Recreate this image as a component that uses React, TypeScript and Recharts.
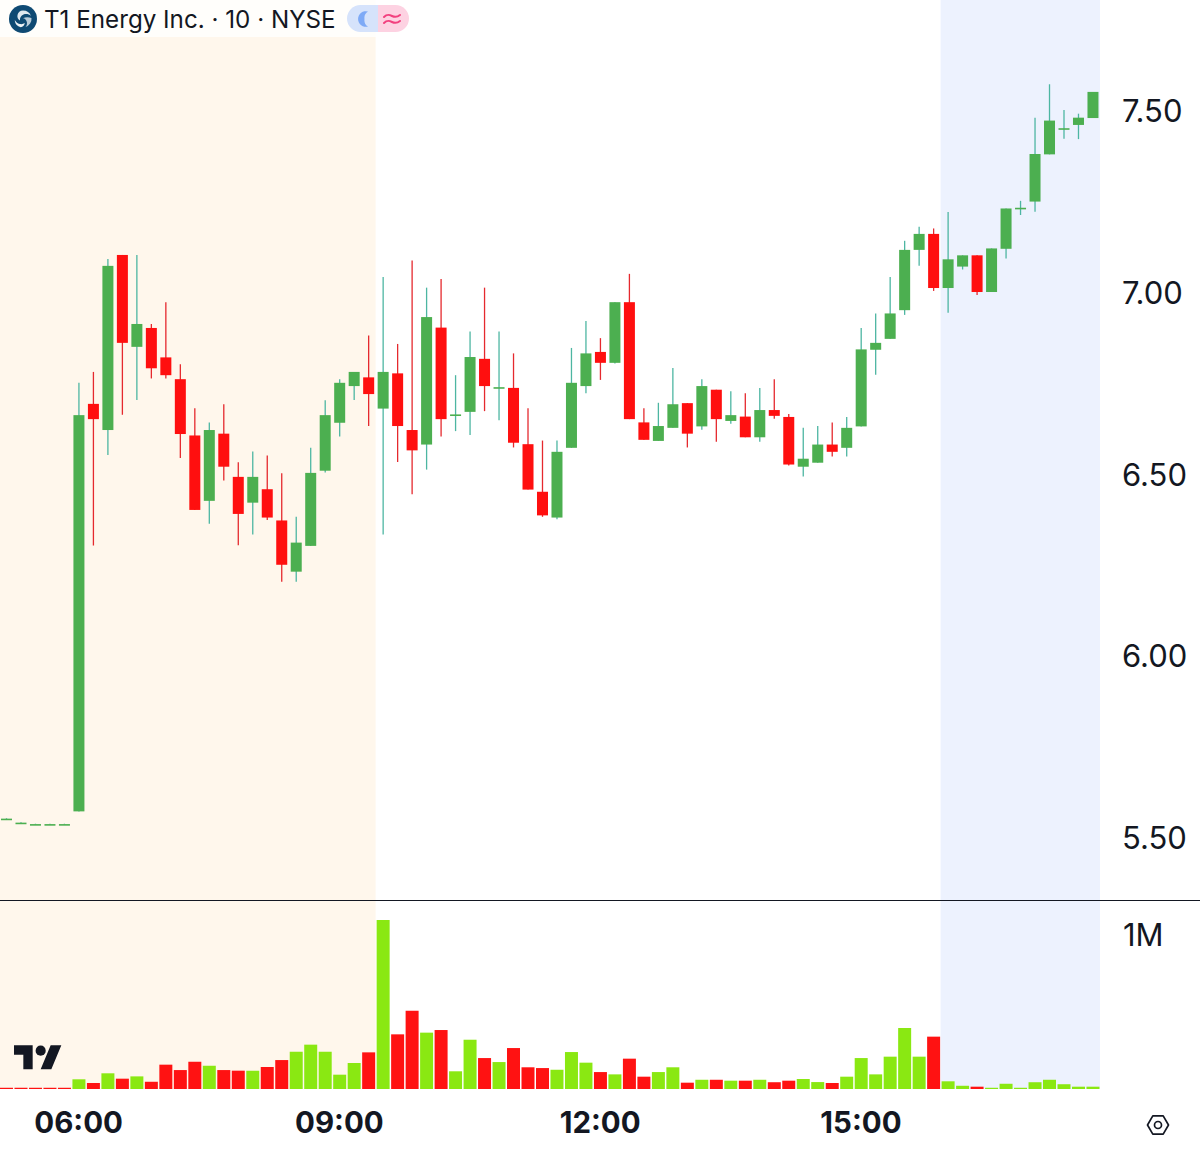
import React from 'react';
import { ComposedChart, Bar, Cell, XAxis, YAxis, ReferenceArea } from 'recharts';

// 10 minute session
const times = [
  '05:10', '05:20', '05:30', '05:40', '05:50', '06:00', '06:10', '06:20', '06:30', '06:40',
  '06:50', '07:00', '07:10', '07:20', '07:30', '07:40', '07:50', '08:00', '08:10', '08:20',
  '08:30', '08:40', '08:50', '09:00', '09:10', '09:20', '09:30', '09:40', '09:50', '10:00',
  '10:10', '10:20', '10:30', '10:40', '10:50', '11:00', '11:10', '11:20', '11:30', '11:40',
  '11:50', '12:00', '12:10', '12:20', '12:30', '12:40', '12:50', '13:00', '13:10', '13:20',
  '13:30', '13:40', '13:50', '14:00', '14:10', '14:20', '14:30', '14:40', '14:50', '15:00',
  '15:10', '15:20', '15:30', '15:40', '15:50', '16:00', '16:10', '16:20', '16:30', '16:40',
  '16:50', '17:00', '17:10', '17:20', '17:30', '17:40',
];

const opens = [
  5.55, 5.539, 5.535, 5.535, 5.535, 5.57, 6.692, 6.62, 7.102, 6.849,
  6.901, 6.82, 6.76, 6.605, 6.425, 6.61, 6.491, 6.42, 6.457, 6.371,
  6.23, 6.301, 6.508, 6.64, 6.741, 6.765, 6.679, 6.776, 6.62, 6.58,
  6.902, 6.662, 6.67, 6.816, 6.737, 6.736, 6.581, 6.45, 6.379, 6.571,
  6.741, 6.835, 6.805, 6.972, 6.641, 6.59, 6.626, 6.694, 6.63, 6.731,
  6.645, 6.657, 6.6, 6.675, 6.656, 6.519, 6.53, 6.58, 6.571, 6.63,
  6.841, 6.871, 6.95, 7.116, 7.16, 7.011, 7.07, 7.101, 7.0, 7.119,
  7.231, 7.249, 7.379, 7.45, 7.46, 7.479,
];

const closes = [
  5.55, 5.539, 5.535, 5.535, 5.535, 6.661, 6.65, 7.072, 6.86, 6.912,
  6.79, 6.771, 6.609, 6.4, 6.62, 6.519, 6.389, 6.491, 6.379, 6.249,
  6.31, 6.502, 6.661, 6.75, 6.78, 6.719, 6.78, 6.631, 6.564, 6.931,
  6.65, 6.663, 6.821, 6.741, 6.738, 6.585, 6.456, 6.385, 6.56, 6.75,
  6.831, 6.805, 6.972, 6.65, 6.593, 6.631, 6.691, 6.61, 6.741, 6.65,
  6.661, 6.6, 6.675, 6.659, 6.525, 6.541, 6.58, 6.56, 6.626, 6.842,
  6.86, 6.941, 7.116, 7.16, 7.011, 7.09, 7.101, 7.0, 7.12, 7.23,
  7.232, 7.38, 7.472, 7.451, 7.48, 7.551,
];

const highs = [
  5.551, 5.54, 5.536, 5.536, 5.536, 6.75, 6.78, 7.091, 7.102, 7.102,
  6.912, 6.972, 6.801, 6.68, 6.641, 6.691, 6.531, 6.561, 6.55, 6.501,
  6.381, 6.571, 6.702, 6.76, 6.78, 6.88, 7.041, 6.857, 7.087, 7.012,
  7.036, 6.771, 6.891, 7.012, 6.891, 6.831, 6.68, 6.591, 6.591, 6.846,
  6.92, 6.873, 6.972, 7.05, 6.68, 6.695, 6.791, 6.694, 6.76, 6.731,
  6.727, 6.721, 6.736, 6.76, 6.664, 6.626, 6.631, 6.641, 6.656, 6.901,
  6.941, 7.041, 7.141, 7.18, 7.175, 7.22, 7.101, 7.101, 7.12, 7.23,
  7.251, 7.48, 7.572, 7.501, 7.491, 7.551,
];

const lows = [
  5.549, 5.538, 5.534, 5.534, 5.534, 5.57, 6.302, 6.551, 6.662, 6.703,
  6.762, 6.762, 6.543, 6.4, 6.362, 6.481, 6.303, 6.332, 6.372, 6.202,
  6.202, 6.301, 6.503, 6.602, 6.703, 6.631, 6.332, 6.532, 6.443, 6.511,
  6.602, 6.617, 6.606, 6.672, 6.647, 6.572, 6.456, 6.381, 6.374, 6.571,
  6.721, 6.758, 6.803, 6.65, 6.593, 6.59, 6.626, 6.572, 6.621, 6.588,
  6.637, 6.6, 6.588, 6.651, 6.522, 6.492, 6.53, 6.547, 6.547, 6.63,
  6.772, 6.871, 6.937, 7.072, 7.003, 6.943, 7.062, 6.992, 7.0, 7.092,
  7.212, 7.221, 7.379, 7.422, 7.421, 7.479,
];

// thousands of shares
const volumes = [
  8, 8, 8, 8, 8, 63, 39, 102, 67, 82,
  47, 158, 123, 177, 151, 123, 119, 119, 143, 188,
  242, 288, 242, 93, 169, 238, 1097, 355, 509, 366,
  383, 115, 320, 201, 175, 266, 141, 136, 125, 240,
  171, 110, 95, 197, 80, 110, 141, 41, 60, 60,
  54, 54, 60, 44, 54, 65, 45, 39, 80, 201,
  95, 210, 396, 210, 340, 50, 21, 15, 8, 34,
  8, 44, 60, 31, 15, 15,
];

// the volume colours do not follow the candles
const volumeUp = [
  0, 0, 0, 0, 0, 1, 0, 1, 0, 1,
  0, 0, 0, 0, 1, 0, 0, 1, 0, 0,
  1, 1, 1, 1, 1, 0, 1, 0, 0, 1,
  0, 1, 1, 0, 1, 0, 0, 0, 1, 1,
  1, 0, 1, 0, 0, 1, 1, 0, 1, 0,
  1, 0, 1, 0, 0, 1, 1, 0, 1, 1,
  1, 1, 1, 1, 0, 1, 1, 0, 1, 1,
  1, 1, 1, 1, 1, 1,
];

const timeTicks = ['06:00', '09:00', '12:00', '15:00'];
const priceTicks = [5.5, 6, 6.5, 7, 7.5];
const volumeTicks = [1000];

const rows = times.map((time, i) => ({
  time,
  open: opens[i],
  close: closes[i],
  high: highs[i],
  low: lows[i],
  range: [lows[i], highs[i]],
  volume: volumes[i],
}));

const FONT = 'Inter, "Noto Sans", sans-serif';
const UP_BODY = '#4caf50';
const UP_WICK = '#4db6a2';
const DOWN_BODY = '#ff0f0f';
const DOWN_WICK = '#e5292e';
const VOL_UP = '#8ae812';
const VOL_DOWN = '#ff1212';
const PRE_BG = '#fff7ec';
const POST_BG = '#edf2fe';

const CHART_LEFT = -1.17;
const CHART_WIDTH = 1201.17;
const AXIS_WIDTH = 100.2;

// Bar gives us the low-high box, body is placed inside it by ratio
function Candle(props: any) {
  const { x, y, width, height, payload } = props;
  const { open, close, high, low } = payload;
  const up = close >= open;
  const k = height / (high - low || 1);
  const top = y + (high - Math.max(open, close)) * k;
  const bodyH = Math.max(Math.abs(open - close) * k, 1.6);
  const cx = x + width / 2;
  return (
    <g>
      <line x1={cx} x2={cx} y1={y} y2={y + height} stroke={up ? UP_WICK : DOWN_WICK} strokeWidth={1.3} />
      <rect x={x} y={top} width={width} height={bodyH} fill={up ? UP_BODY : DOWN_BODY} />
    </g>
  );
}

function Header() {
  return (
    <>
      <div style={{ position: 'absolute', left: 0, top: 0, width: 376, height: 37, background: 'rgba(255,255,255,0.8)' }} />
      <svg width={30} height={30} style={{ position: 'absolute', left: 8, top: 4 }} viewBox="0 0 30 30">
        <circle cx={15} cy={15} r={14} fill="#0f4a73" />
        <path d="M15 6.500a8.500 8.500 0 0 1 8 5.500c-2-2-5-2.500-7.500-1.500-2.500 1-4 3.500-3.500 6-2-1-3-3-2.500-5.500C10 8.500 12 6.500 15 6.500z" fill="#dfe8ee" />
        <path d="M23.500 14a8.500 8.500 0 0 1-6 9c1.500-1.500 2-4 1-6-.7-1.500-2-2.500-3.500-2.700 2.500-1.500 6-1.300 8.500-.3z" fill="#b9cbd8" />
        <path d="M6.800 16c1 1.800 2.500 3.500 5 4 2 .4 3.500 0 5-1-.5 2.500-2 4-4 4.200-3.500-.7-6-3.700-6-7.200z" fill="#eef3f6" />
      </svg>
      <div
        style={{
          position: 'absolute', left: 44, top: 5, height: 30, lineHeight: '30px',
          fontFamily: FONT, fontSize: 24.2, color: '#131722', whiteSpace: 'nowrap',
        }}
      >
        T1 Energy Inc. · 10 · NYSE
      </div>
      <div style={{ position: 'absolute', left: 347, top: 5, width: 31, height: 27, background: '#d6e3fb', borderRadius: '14px 0 0 14px' }} />
      <div style={{ position: 'absolute', left: 378, top: 5, width: 31, height: 27, background: '#fdd2e2', borderRadius: '0 14px 14px 0' }} />
      <svg width={20} height={20} style={{ position: 'absolute', left: 354, top: 9 }} viewBox="0 0 20 20">
        <path d="M14 2.500a7.800 7.800 0 1 0 0 15 7.500 7.500 0 0 1-3.500-7.500 7.500 7.500 0 0 1 3.500-7.500z" fill="#7eaaf6" />
      </svg>
      <svg width={20} height={20} style={{ position: 'absolute', left: 382, top: 9 }} viewBox="0 0 20 20">
        <path d="M2 8c3-3 5-2.500 8-1s5 1.500 8-1M2 14c3-3 5-2.500 8-1s5 1.500 8-1" fill="none" stroke="#f2417f" strokeWidth={2} strokeLinecap="round" />
      </svg>
    </>
  );
}

function TvLogo() {
  return (
    <svg width={48} height={26} viewBox="0 0 36 19.500" style={{ position: 'absolute', left: 13.500, top: 1043.700 }}>
      <path d="M14 22H7V11H0V4h14v18zM28 22h-8l7.500-18h8L28 22z" transform="translate(0 -3)" fill="#131722" />
      <circle cx={20} cy={5} r={3.800} fill="#131722" />
    </svg>
  );
}

function SettingsIcon() {
  return (
    <svg width={24} height={22} viewBox="0 0 24 22" style={{ position: 'absolute', left: 1145.500, top: 1114 }}>
      <path d="M1.500 11L6.800 1.800h10.400L22.500 11l-5.300 9.200H6.800z" fill="none" stroke="#131722" strokeWidth={1.700} strokeLinejoin="round" />
      <circle cx={12} cy={11} r={3.500} fill="none" stroke="#131722" strokeWidth={1.700} />
    </svg>
  );
}

export default function App() {
  return (
    <div style={{ position: 'absolute', left: 0, top: 0, width: 1200, height: 1155, overflow: 'hidden', background: '#fff' }}>
      {/* price pane */}
      <div style={{ position: 'absolute', left: CHART_LEFT, top: 0 }}>
        <ComposedChart
          width={CHART_WIDTH}
          height={900}
          data={rows}
          margin={{ top: 0, right: 0, bottom: 0, left: 0 }}
        >
          <XAxis dataKey="time" hide padding={{ left: 0, right: 0 }} />
          <YAxis
            orientation="right"
            width={AXIS_WIDTH}
            domain={[5.326, 7.804]}
            ticks={priceTicks}
            tickFormatter={(v: number) => v.toFixed(2)}
            tick={{ fontSize: 31, fill: '#131722', fontFamily: FONT, fontWeight: 400, dy: 1 }}
            tickLine={false}
            axisLine={false}
            tickSize={0}
            tickMargin={22}
          />
          <ReferenceArea x1="05:10" x2="09:20" fill={PRE_BG} fillOpacity={1} stroke="none" />
          <ReferenceArea x1="16:00" x2="17:40" fill={POST_BG} fillOpacity={1} stroke="none" />
          <Bar dataKey="range" barSize={11} shape={<Candle />} isAnimationActive={false} />
        </ComposedChart>
      </div>

      <div style={{ position: 'absolute', left: 0, top: 900, width: 1200, height: 1, background: '#131722', zIndex: 2 }} />

      {/* volume pane */}
      <div style={{ position: 'absolute', left: CHART_LEFT, top: 901 }}>
        <ComposedChart
          width={CHART_WIDTH}
          height={254}
          data={rows}
          margin={{ top: 0, right: 0, bottom: 0, left: 0 }}
        >
          <XAxis
            dataKey="time"
            height={66}
            ticks={timeTicks}
            interval={0}
            padding={{ left: 0, right: 0 }}
            tick={{ fontSize: 29.5, fill: '#131722', fontFamily: FONT, fontWeight: 700 }}
            tickLine={false}
            axisLine={false}
            tickSize={0}
            tickMargin={23}
          />
          <YAxis
            orientation="right"
            width={AXIS_WIDTH}
            domain={[0, 1221]}
            ticks={volumeTicks}
            tickFormatter={(v: number) => `${v / 1000}M`}
            tick={{ fontSize: 31, fill: '#131722', fontFamily: FONT, fontWeight: 400, dy: 0 }}
            tickLine={false}
            axisLine={false}
            tickSize={0}
            tickMargin={23}
          />
          <ReferenceArea x1="05:10" x2="09:20" fill={PRE_BG} fillOpacity={1} stroke="none" />
          <ReferenceArea x1="16:00" x2="17:40" fill={POST_BG} fillOpacity={1} stroke="none" />
          <Bar dataKey="volume" barSize={13} isAnimationActive={false}>
            {rows.map((r, i) => (
              <Cell key={r.time} fill={volumeUp[i] ? VOL_UP : VOL_DOWN} />
            ))}
          </Bar>
        </ComposedChart>
      </div>

      <Header />
      <TvLogo />
      <SettingsIcon />
    </div>
  );
}
